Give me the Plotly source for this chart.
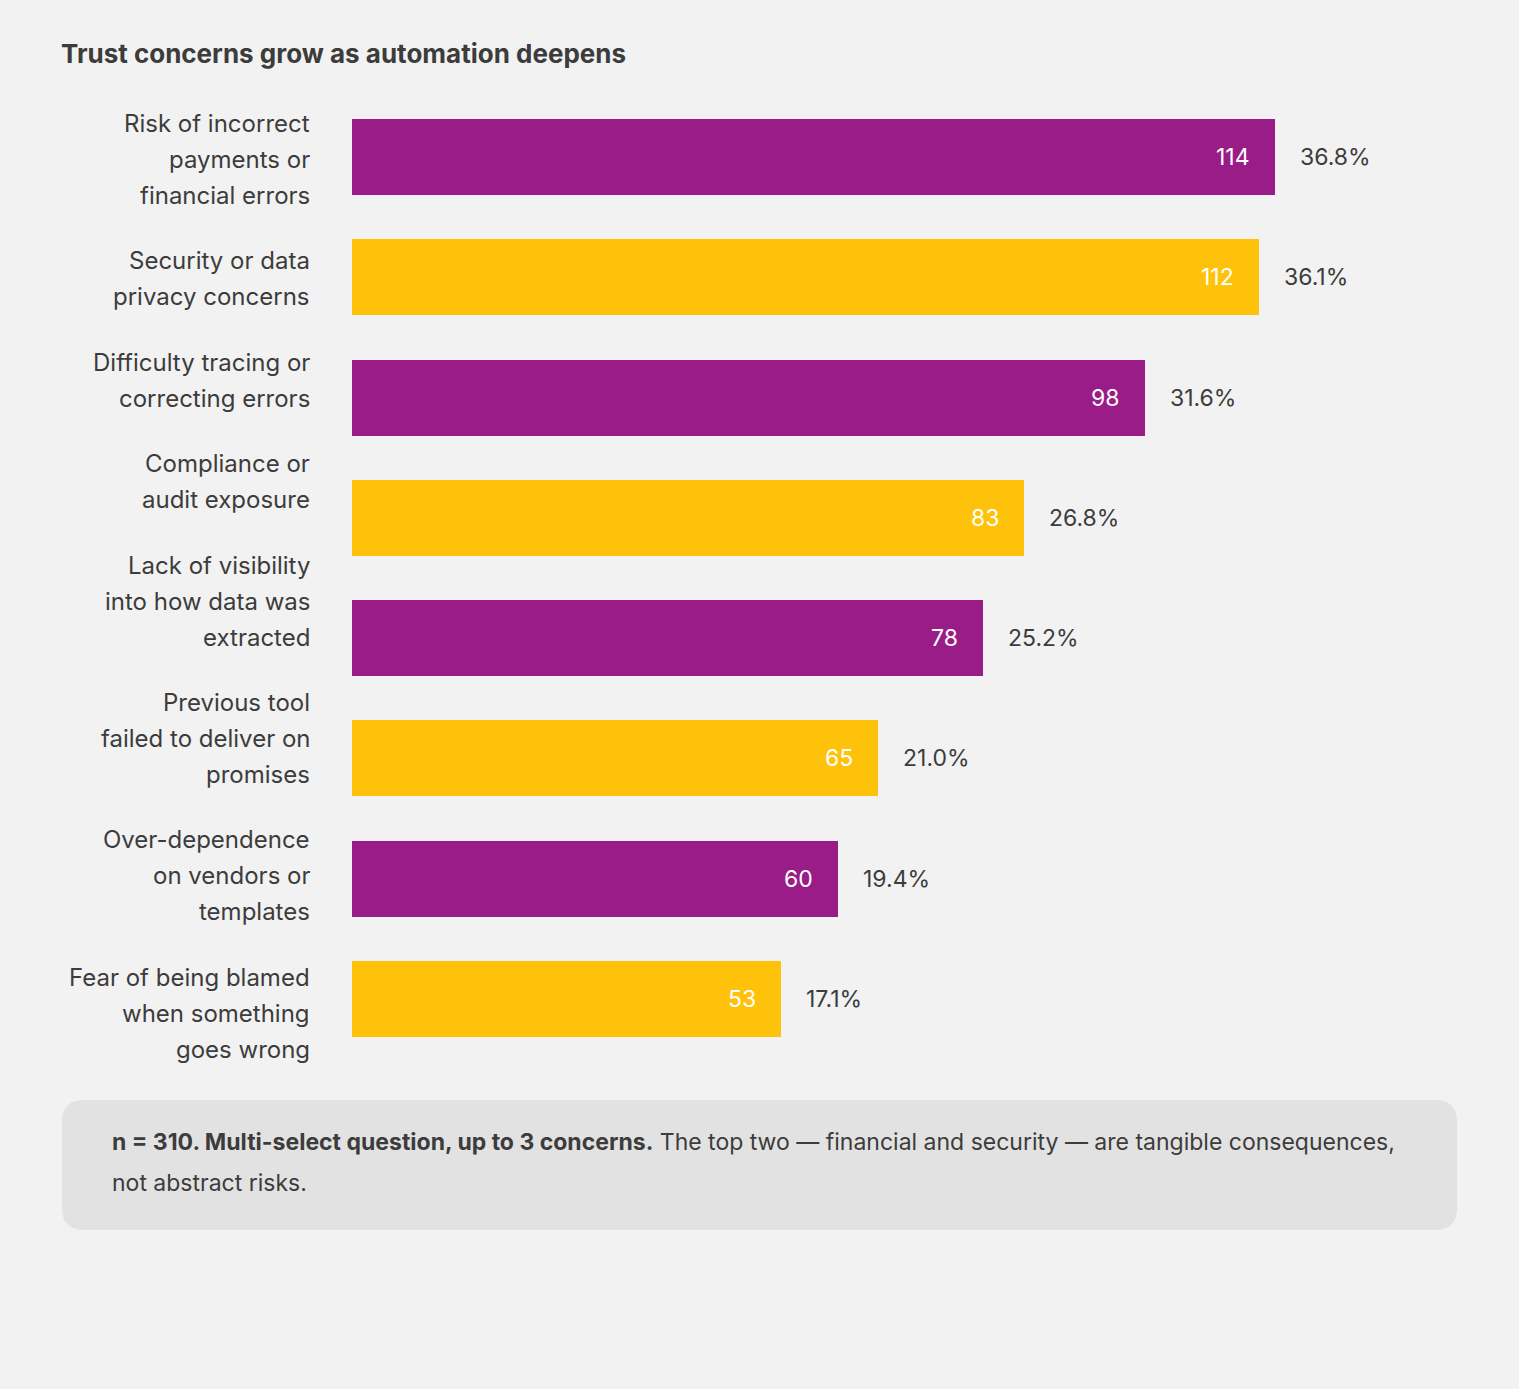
import plotly.graph_objects as go

# ---------------- data ----------------
categories = [
    "Risk of incorrect<br>payments or<br>financial errors",
    "Security or data<br>privacy concerns",
    "Difficulty tracing or<br>correcting errors",
    "Compliance or<br>audit exposure",
    "Lack of visibility<br>into how data was<br>extracted",
    "Previous tool<br>failed to deliver on<br>promises",
    "Over-dependence<br>on vendors or<br>templates",
    "Fear of being blamed<br>when something<br>goes wrong",
]
counts = [114, 112, 98, 83, 78, 65, 60, 53]
percents = ["36.8%", "36.1%", "31.6%", "26.8%", "25.2%", "21.0%", "19.4%", "17.1%"]
title_text = "Trust concerns grow as automation deepens"
note_bold = "n = 310. Multi-select question, up to 3 concerns."
note_rest = " The top two \u2014 financial and security \u2014 are tangible consequences,"
note_line2 = "not abstract risks."

# ---------------- style / layout ----------------
W, H = 1519, 1389
PL, PR, PT, PB = 352, 62, 97, 330
PW, PH = W - PL - PR, H - PT - PB
PX_PER_UNIT = 8.096
BG = "#F2F2F2"
PURPLE = "#991C87"
YELLOW = "#FFC20A"
TEXT = "#3C3C3C"
FONT = "Inter"

colors = [PURPLE if i % 2 == 0 else YELLOW for i in range(len(counts))]
ids = list(range(len(counts)))


def px_x(px):
    return (px - PL) / PW


def px_y(py):
    return 1 - (py - PT) / PH


fig = go.Figure()
fig.add_trace(go.Bar(
    x=counts, y=ids, orientation="h",
    marker=dict(color=colors, line=dict(width=0)),
    width=0.632, hoverinfo="skip",
))

annotations = []
# value labels inside and percentages outside
for i, (v, p) in enumerate(zip(counts, percents)):
    annotations.append(dict(x=v, y=i, xref="x", yref="y", text=str(v),
                            xanchor="right", yanchor="middle", xshift=-23,
                            showarrow=False, font=dict(family=FONT, size=23, color="white")))
    annotations.append(dict(x=v, y=i, xref="x", yref="y", text=p,
                            xanchor="left", yanchor="middle", xshift=23,
                            showarrow=False, font=dict(family=FONT, size=23, color=TEXT)))

# category labels laid out as a flowing text column
LINE = 36
GAP = 65.4
y_cursor = 123.5
for cat in categories:
    lines = cat.split("<br>")
    for j, ln in enumerate(lines):
        yy = y_cursor + j * LINE
        annotations.append(dict(x=px_x(312), y=px_y(yy), xref="paper", yref="paper",
                                text=ln, xanchor="right", yanchor="middle", showarrow=False,
                                font=dict(family=FONT, size=24, color=TEXT)))
    y_cursor = y_cursor + (len(lines) - 1) * LINE + GAP

# note box
annotations.append(dict(x=px_x(110), y=px_y(1142), xref="paper", yref="paper",
                        text="<b>" + note_bold + "</b>" + note_rest,
                        xanchor="left", yanchor="middle", showarrow=False,
                        font=dict(family=FONT, size=23, color=TEXT)))
annotations.append(dict(x=px_x(110), y=px_y(1183), xref="paper", yref="paper",
                        text=note_line2, xanchor="left", yanchor="middle", showarrow=False,
                        font=dict(family=FONT, size=23, color=TEXT)))


def rounded_rect(x0, y0, x1, y1, r):
    def P(x, y):
        return f"{px_x(x):.5f},{px_y(y):.5f}"
    return (f"M {P(x0 + r, y0)} L {P(x1 - r, y0)} Q {P(x1, y0)} {P(x1, y0 + r)} "
            f"L {P(x1, y1 - r)} Q {P(x1, y1)} {P(x1 - r, y1)} "
            f"L {P(x0 + r, y1)} Q {P(x0, y1)} {P(x0, y1 - r)} "
            f"L {P(x0, y0 + r)} Q {P(x0, y0)} {P(x0 + r, y0)} Z")


shapes = [dict(type="path", xref="paper", yref="paper",
               path=rounded_rect(62, 1100, 1457, 1230, 22),
               fillcolor="#E2E2E2", line=dict(width=0), layer="below")]

fig.update_layout(
    width=W, height=H, autosize=False,
    margin=dict(l=PL, r=PR, t=PT, b=PB, pad=0),
    paper_bgcolor=BG, plot_bgcolor=BG,
    showlegend=False,
    title=dict(text="<b>" + title_text + "</b>", xref="container", yref="container",
               x=61 / W, xanchor="left", y=1 - 54 / H, yanchor="middle",
               font=dict(family=FONT, size=26, color=TEXT)),
    xaxis=dict(range=[0, PW / PX_PER_UNIT], visible=False, fixedrange=True),
    yaxis=dict(range=[len(counts) - 0.5, -0.5], visible=False, fixedrange=True),
    annotations=annotations,
    shapes=shapes,
    bargap=0,
)

fig.write_html("out.html", config={"displayModeBar": False},
               post_script="document.body.style.margin='0';")
